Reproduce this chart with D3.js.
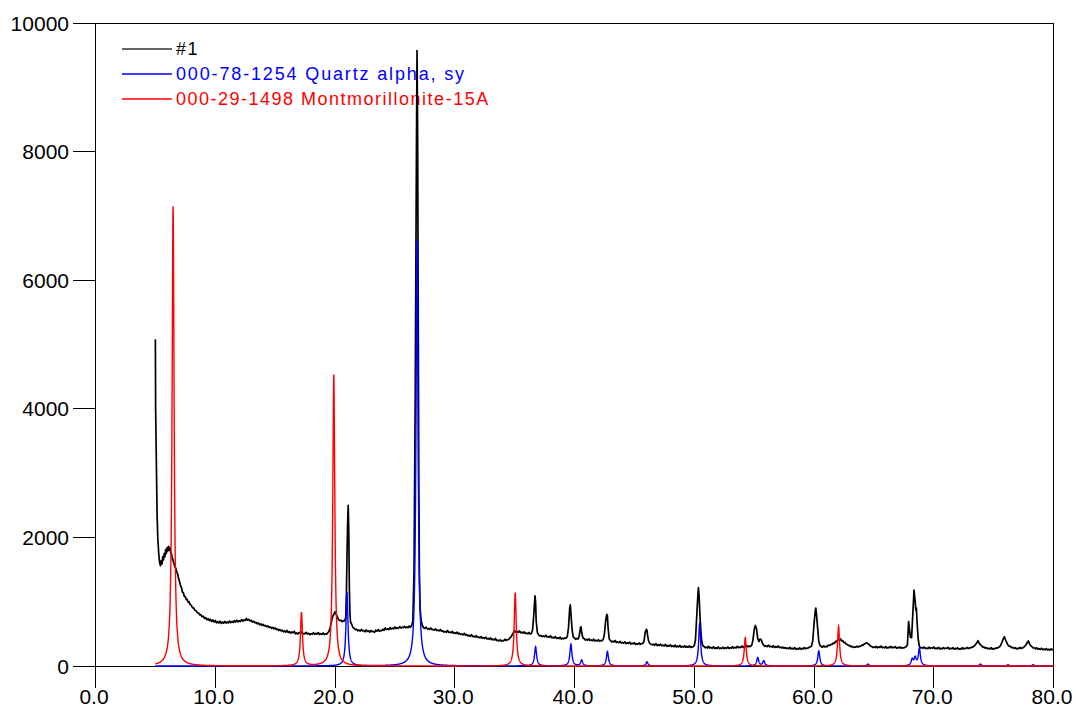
<!DOCTYPE html>
<html><head><meta charset="utf-8">
<script src="https://cdn.jsdelivr.net/npm/d3@7"></script>
<style>
html,body{margin:0;padding:0;background:#fff;}
svg{display:block;font-family:"Liberation Sans",Arial,sans-serif;}
</style></head><body>
<svg id="chart" width="1076" height="708"></svg>
<script>
// ---------- data ----------
const xTicks = [0, 10, 20, 30, 40, 50, 60, 70, 80];
const yTicks = [0, 2000, 4000, 6000, 8000, 10000];
const xDomain = [0, 80];
const yDomain = [0, 10000];
const rangeStart = 5, rangeEnd = 80;
const seriesNames = ["#1", "000-78-1254 Quartz alpha, syn", "000-29-1498 Montmorillonite-15A"];
const seriesColors = ["#000000", "#0000ff", "#ff0000"];

// measured pattern #1: [2-theta, counts]
const sample = [
[5.00,5080],[5.01,4600],[5.02,4030],[5.08,3200],[5.14,2375],[5.20,2000],[5.28,1750],[5.36,1600],[5.43,1560],
[5.50,1640],[5.56,1590],[5.62,1700],[5.68,1650],[5.74,1750],[5.80,1700],[5.86,1810],[5.92,1750],[5.98,1840],
[6.04,1790],[6.10,1860],[6.16,1800],[6.22,1840],[6.28,1760],[6.34,1750],[6.40,1680],[6.46,1660],[6.52,1610],
[6.58,1580],[6.64,1540],[6.70,1520],[6.78,1470],[6.86,1430],[6.94,1360],[7.02,1310],[7.10,1250],[7.18,1220],
[7.26,1150],[7.34,1140],[7.42,1080],[7.50,1080],[7.58,1030],[7.66,1035],[7.74,990],[7.82,1000],[7.90,955],
[8.00,945],[8.10,905],[8.20,905],[8.30,865],[8.40,860],[8.50,830],[8.60,825],[8.70,795],[8.80,800],[8.90,765],
[9.00,775],[9.10,740],[9.20,752],[9.30,718],[9.40,738],[9.50,705],[9.60,725],[9.70,692],[9.80,715],[9.90,684],
[10.0,708],[10.1,672],[10.2,690],[10.3,668],[10.4,698],[10.5,662],[10.6,684],[10.7,666],[10.8,694],[10.9,668],
[11.0,686],[11.1,670],[11.2,700],[11.3,674],[11.4,692],[11.5,678],[11.6,706],[11.7,684],[11.8,712],[11.9,688],
[12.0,704],[12.1,692],[12.2,722],[12.3,698],[12.4,716],[12.5,708],[12.6,740],[12.7,712],[12.8,726],[12.9,698],
[13.0,712],[13.1,684],[13.2,696],[13.3,672],[13.4,678],[13.5,656],[13.6,670],[13.7,642],[13.8,656],[13.9,632],
[14.0,648],[14.1,622],[14.2,630],[14.3,610],[14.4,624],[14.5,598],[14.6,610],[14.7,586],[14.8,600],[14.9,578],
[15.0,594],[15.1,566],[15.2,576],[15.3,552],[15.4,568],[15.5,546],[15.6,556],[15.7,532],[15.8,546],[15.9,528],
[16.0,552],[16.1,520],[16.2,534],[16.3,512],[16.4,530],[16.5,516],[16.6,538],[16.7,500],[16.8,514],[16.9,496],
[17.0,522],[17.1,510],[17.2,532],[17.3,494],[17.4,508],[17.5,500],[17.6,524],[17.7,496],[17.8,508],[17.9,488],
[18.0,502],[18.1,492],[18.2,518],[18.3,494],[18.4,508],[18.5,496],[18.6,520],[18.7,490],[18.8,504],[18.9,492],
[19.0,514],[19.1,488],[19.2,502],[19.3,496],[19.4,518],[19.5,540],[19.6,600],[19.7,690],[19.8,770],[19.9,800],
[20.0,845],[20.1,805],[20.2,765],[20.3,718],[20.4,706],[20.5,712],[20.6,688],[20.7,706],[20.8,700],[20.9,760],
[20.95,1100],[21.0,1700],[21.05,2200],[21.1,2500],[21.15,2100],[21.2,1200],[21.25,800],[21.3,680],[21.4,646],
[21.5,598],[21.6,588],[21.7,566],[21.8,572],[21.9,548],[22.0,560],[22.1,542],[22.2,570],[22.3,546],[22.4,552],
[22.5,532],[22.6,560],[22.7,538],[22.8,548],[22.9,526],[23.0,552],[23.1,532],[23.2,540],[23.3,524],[23.4,556],
[23.5,542],[23.6,566],[23.7,540],[23.8,552],[23.9,548],[24.0,572],[24.1,556],[24.2,592],[24.3,566],[24.4,578],
[24.5,566],[24.6,598],[24.7,572],[24.8,588],[24.9,578],[25.0,608],[25.1,582],[25.2,594],[25.3,586],[25.4,612],
[25.5,590],[25.6,602],[25.7,598],[25.8,618],[25.9,594],[26.0,608],[26.1,596],[26.2,622],[26.3,604],[26.4,626],
[26.5,700],[26.6,1500],[26.7,4200],[26.8,8000],[26.85,9570],[26.9,8300],[26.95,5500],[27.0,2800],[27.05,1400],
[27.1,900],[27.2,700],[27.3,626],[27.4,596],[27.5,584],[27.6,606],[27.7,578],[27.8,582],[27.9,570],[28.0,592],
[28.1,566],[28.2,568],[28.3,558],[28.4,578],[28.5,552],[28.6,558],[28.7,546],[28.8,568],[28.9,540],[29.0,548],
[29.1,528],[29.2,538],[29.3,524],[29.4,552],[29.5,522],[29.6,528],[29.7,516],[29.8,538],[29.9,508],[30.0,518],
[30.1,506],[30.2,528],[30.3,498],[30.4,508],[30.5,490],[30.6,498],[30.7,484],[30.8,508],[30.9,478],[31.0,488],
[31.1,468],[31.2,478],[31.3,462],[31.4,488],[31.5,456],[31.6,462],[31.7,450],[31.8,472],[31.9,444],[32.0,452],
[32.1,438],[32.2,458],[32.3,432],[32.4,442],[32.5,428],[32.6,448],[32.7,420],[32.8,428],[32.9,416],[33.0,438],
[33.1,408],[33.2,418],[33.3,404],[33.4,428],[33.5,396],[33.6,402],[33.7,390],[33.8,408],[33.9,386],[34.0,396],
[34.1,392],[34.2,418],[34.3,398],[34.4,408],[34.5,412],[34.6,436],[34.7,452],[34.8,486],[34.9,520],[35.0,548],
[35.1,528],[35.2,536],[35.3,522],[35.4,546],[35.5,518],[35.6,528],[35.7,510],[35.8,532],[35.9,504],[36.0,512],
[36.1,500],[36.2,522],[36.3,498],[36.4,506],[36.5,560],[36.6,800],[36.7,1090],[36.75,1000],[36.8,700],[36.9,520],
[37.0,486],[37.1,466],[37.2,476],[37.3,458],[37.4,468],[37.5,456],[37.6,478],[37.7,450],[37.8,458],[37.9,446],
[38.0,468],[38.1,440],[38.2,446],[38.3,436],[38.4,458],[38.5,428],[38.6,438],[38.7,426],[38.8,448],[38.9,420],
[39.0,432],[39.1,422],[39.2,438],[39.3,432],[39.4,460],[39.5,600],[39.6,900],[39.65,950],[39.7,820],[39.8,560],
[39.9,450],[40.0,436],[40.1,416],[40.2,428],[40.3,420],[40.4,470],[40.5,600],[40.55,610],[40.6,520],[40.7,440],
[40.8,426],[40.9,404],[41.0,416],[41.1,400],[41.2,422],[41.3,396],[41.4,406],[41.5,394],[41.6,418],[41.7,388],
[41.8,400],[41.9,390],[42.0,408],[42.1,384],[42.2,396],[42.3,392],[42.4,414],[42.5,500],[42.6,700],[42.7,805],
[42.75,780],[42.8,600],[42.9,420],[43.0,396],[43.1,376],[43.2,386],[43.3,372],[43.4,396],[43.5,366],[43.6,376],
[43.7,362],[43.8,382],[43.9,356],[44.0,366],[44.1,354],[44.2,376],[44.3,348],[44.4,360],[44.5,350],[44.6,372],
[44.7,342],[44.8,356],[44.9,344],[45.0,362],[45.1,336],[45.2,346],[45.3,338],[45.4,358],[45.5,336],[45.6,348],
[45.7,350],[45.8,380],[45.9,520],[46.0,570],[46.05,560],[46.1,480],[46.2,380],[46.3,348],[46.4,336],[46.5,330],
[46.6,340],[46.7,322],[46.8,346],[46.9,318],[47.0,330],[47.1,318],[47.2,340],[47.3,314],[47.4,324],[47.5,312],
[47.6,336],[47.7,306],[47.8,320],[47.9,308],[48.0,330],[48.1,302],[48.2,314],[48.3,300],[48.4,326],[48.5,296],
[48.6,310],[48.7,298],[48.8,320],[48.9,292],[49.0,304],[49.1,294],[49.2,316],[49.3,290],[49.4,304],[49.5,292],
[49.6,312],[49.7,288],[49.8,300],[49.9,296],[50.0,316],[50.1,400],[50.2,750],[50.3,1100],[50.35,1220],[50.4,1100],
[50.5,700],[50.6,420],[50.7,322],[50.8,304],[50.9,284],[51.0,294],[51.1,280],[51.2,306],[51.3,278],[51.4,290],
[51.5,276],[51.6,300],[51.7,272],[51.8,284],[51.9,274],[52.0,296],[52.1,270],[52.2,280],[52.3,272],[52.4,292],
[52.5,270],[52.6,286],[52.7,274],[52.8,296],[52.9,272],[53.0,286],[53.1,278],[53.2,300],[53.3,278],[53.4,290],
[53.5,282],[53.6,306],[53.7,284],[53.8,294],[53.9,290],[54.0,312],[54.1,290],[54.2,304],[54.3,296],[54.4,316],
[54.5,298],[54.6,310],[54.7,306],[54.8,324],[54.9,400],[55.0,560],[55.1,630],[55.2,580],[55.3,430],[55.4,380],
[55.5,420],[55.6,410],[55.7,350],[55.8,324],[55.9,306],[56.0,314],[56.1,300],[56.2,326],[56.3,298],[56.4,306],
[56.5,294],[56.6,316],[56.7,288],[56.8,300],[56.9,290],[57.0,312],[57.1,286],[57.2,296],[57.3,280],[57.4,292],
[57.5,276],[57.6,286],[57.7,270],[57.8,282],[57.9,268],[58.0,290],[58.1,266],[58.2,276],[58.3,264],[58.4,286],
[58.5,260],[58.6,270],[58.7,262],[58.8,282],[58.9,260],[59.0,274],[59.1,266],[59.2,286],[59.3,268],[59.4,280],
[59.5,276],[59.6,294],[59.7,296],[59.8,312],[59.9,400],[60.0,650],[60.1,850],[60.15,900],[60.2,820],[60.3,600],
[60.4,380],[60.5,320],[60.6,304],[60.7,292],[60.8,314],[60.9,296],[61.0,304],[61.1,300],[61.2,326],[61.3,318],
[61.4,334],[61.5,336],[61.6,356],[61.7,350],[61.8,384],[61.9,380],[62.0,414],[62.1,400],[62.2,424],[62.3,392],
[62.4,394],[62.5,362],[62.6,366],[62.7,338],[62.8,334],[62.9,316],[63.0,318],[63.1,298],[63.2,306],[63.3,288],
[63.4,296],[63.5,292],[63.6,310],[63.7,294],[63.8,306],[63.9,308],[64.0,326],[64.1,322],[64.2,344],[64.3,350],
[64.4,364],[64.5,346],[64.6,334],[64.7,312],[64.8,306],[64.9,288],[65.0,296],[65.1,286],[65.2,306],[65.3,284],
[65.4,298],[65.5,290],[65.6,310],[65.7,284],[65.8,294],[65.9,282],[66.0,300],[66.1,278],[66.2,290],[66.3,284],
[66.4,306],[66.5,282],[66.6,294],[66.7,286],[66.8,300],[66.9,276],[67.0,290],[67.1,280],[67.2,296],[67.3,274],
[67.4,286],[67.5,280],[67.6,294],[67.7,300],[67.8,330],[67.9,690],[67.95,600],[68.05,450],[68.15,440],[68.25,800],
[68.35,1180],[68.45,1000],[68.5,870],[68.55,900],[68.6,700],[68.7,420],[68.8,304],[68.9,282],[69.0,288],[69.1,276],
[69.2,296],[69.3,272],[69.4,280],[69.5,270],[69.6,292],[69.7,274],[69.8,284],[69.9,276],[70.0,296],[70.1,270],
[70.2,280],[70.3,268],[70.4,290],[70.5,266],[70.6,276],[70.7,266],[70.8,286],[70.9,270],[71.0,280],[71.1,272],
[71.2,290],[71.3,264],[71.4,276],[71.5,268],[71.6,286],[71.7,262],[71.8,274],[71.9,266],[72.0,282],[72.1,260],
[72.2,270],[72.3,262],[72.4,286],[72.5,264],[72.6,276],[72.7,272],[72.8,290],[72.9,270],[73.0,282],[73.1,282],
[73.2,296],[73.3,296],[73.4,316],[73.5,336],[73.6,362],[73.7,395],[73.8,352],[73.9,332],[74.0,314],[74.1,290],
[74.2,296],[74.3,276],[74.4,286],[74.5,268],[74.6,276],[74.7,264],[74.8,286],[74.9,262],[75.0,272],[75.1,266],
[75.2,284],[75.3,276],[75.4,290],[75.5,300],[75.6,326],[75.7,370],[75.8,420],[75.9,455],[76.0,404],[76.1,364],
[76.2,326],[76.3,308],[76.4,304],[76.5,284],[76.6,290],[76.7,274],[76.8,286],[76.9,266],[77.0,276],[77.1,270],
[77.2,290],[77.3,272],[77.4,282],[77.5,290],[77.6,306],[77.7,330],[77.8,362],[77.9,390],[78.0,344],[78.1,316],
[78.2,302],[78.3,280],[78.4,284],[78.5,266],[78.6,284],[78.7,262],[78.8,270],[78.9,258],[79.0,276],[79.1,254],
[79.2,264],[79.3,252],[79.4,270],[79.5,250],[79.6,260],[79.7,248],[79.8,266],[79.9,252],[80.0,258]
];

// reference card peaks: [2-theta, intensity]
const quartzPeaks = [
[21.0,1150],[26.85,6620],[36.75,300],[39.7,340],[40.6,90],[42.75,225],[46.05,65],[50.45,660],
[55.3,130],[55.8,80],[60.4,235],[64.5,30],[68.2,100],[68.45,120],[68.8,270],[73.9,30],[76.2,20],[78.3,20]
];
const montPeaks = [
[6.48,7150],[17.2,830],[19.9,4530],[35.05,1140],[54.26,440],[62.05,620]
];

// ---------- layout ----------
const svg = d3.select("#chart");
const x = d3.scaleLinear().domain(xDomain).range([95.5, 1053.5]);
const y = d3.scaleLinear().domain(yDomain).range([666, 23]);

// peak profile glyph (Lorentzian, half-width in degrees)
const peakHalfWidth = 0.1;
function profileLine(peaks) {
  const step = 0.01;
  const pts = [];
  const n = Math.round((rangeEnd - rangeStart) / step);
  for (let i = 0; i <= n; i++) {
    const t = rangeStart + i * step;
    let v = 0;
    for (const [p, h] of peaks) {
      const d = (t - p) / peakHalfWidth;
      v += h / (1 + d * d);
    }
    pts.push([t, v]);
  }
  return pts;
}

const line = d3.line().x(d => x(d[0])).y(d => y(d[1]));

// legend (drawn first; the pattern lines overlay it)
const legend = svg.append("g");
svg.append("defs").append("clipPath").attr("id", "legclip")
  .append("rect").attr("x", 0).attr("y", 0).attr("width", 467).attr("height", 708);
const legY = [49, 74, 99];
const legSpacing = [1.6, 1.85, 1.5];
seriesNames.forEach((name, i) => {
  legend.append("line").attr("x1", 122).attr("x2", 172).attr("y1", legY[i]).attr("y2", legY[i])
    .attr("stroke", i === 0 ? "#333" : seriesColors[i]).attr("stroke-width", 1.3);
  const t = legend.append("text").attr("x", 176).attr("y", legY[i] + 5.5)
    .attr("fill", seriesColors[i]).attr("font-size", 18).attr("letter-spacing", legSpacing[i])
    .text(name);
  if (i === 1) t.attr("clip-path", "url(#legclip)");
});

// axes / frame
const axisG = svg.append("g").attr("stroke", "#000").attr("stroke-width", 1).attr("shape-rendering", "crispEdges");
axisG.append("rect").attr("x", x(0)).attr("y", y(10000)).attr("width", x(80) - x(0)).attr("height", y(0) - y(10000))
  .attr("fill", "none");
axisG.selectAll(".yt").data(yTicks).enter().append("line")
  .attr("x1", 72.5).attr("x2", x(0)).attr("y1", d => y(d)).attr("y2", d => y(d));
axisG.selectAll(".xt").data(xTicks).enter().append("line")
  .attr("x1", d => x(d)).attr("x2", d => x(d)).attr("y1", y(0)).attr("y2", 688);

svg.selectAll(".yl").data(yTicks).enter().append("text")
  .attr("x", 69).attr("y", d => y(d)).attr("dy", "0.36em").attr("text-anchor", "end")
  .attr("font-size", 21).attr("fill", "#000").text(d => d);
svg.selectAll(".xl").data(xTicks).enter().append("text")
  .attr("x", d => x(d) - 1.5).attr("y", 704).attr("text-anchor", "middle")
  .attr("font-size", 21).attr("fill", "#000").text(d => d3.format(".1f")(d));

// patterns
svg.append("path").datum(sample).attr("d", line).attr("fill", "none")
  .attr("stroke", seriesColors[0]).attr("stroke-width", 1.7).attr("stroke-linejoin", "round");
svg.append("path").datum(profileLine(quartzPeaks)).attr("d", line).attr("fill", "none")
  .attr("stroke", seriesColors[1]).attr("stroke-width", 1.4);
svg.append("path").datum(profileLine(montPeaks)).attr("d", line).attr("fill", "none")
  .attr("stroke", seriesColors[2]).attr("stroke-width", 1.4);
</script>
</body></html>
